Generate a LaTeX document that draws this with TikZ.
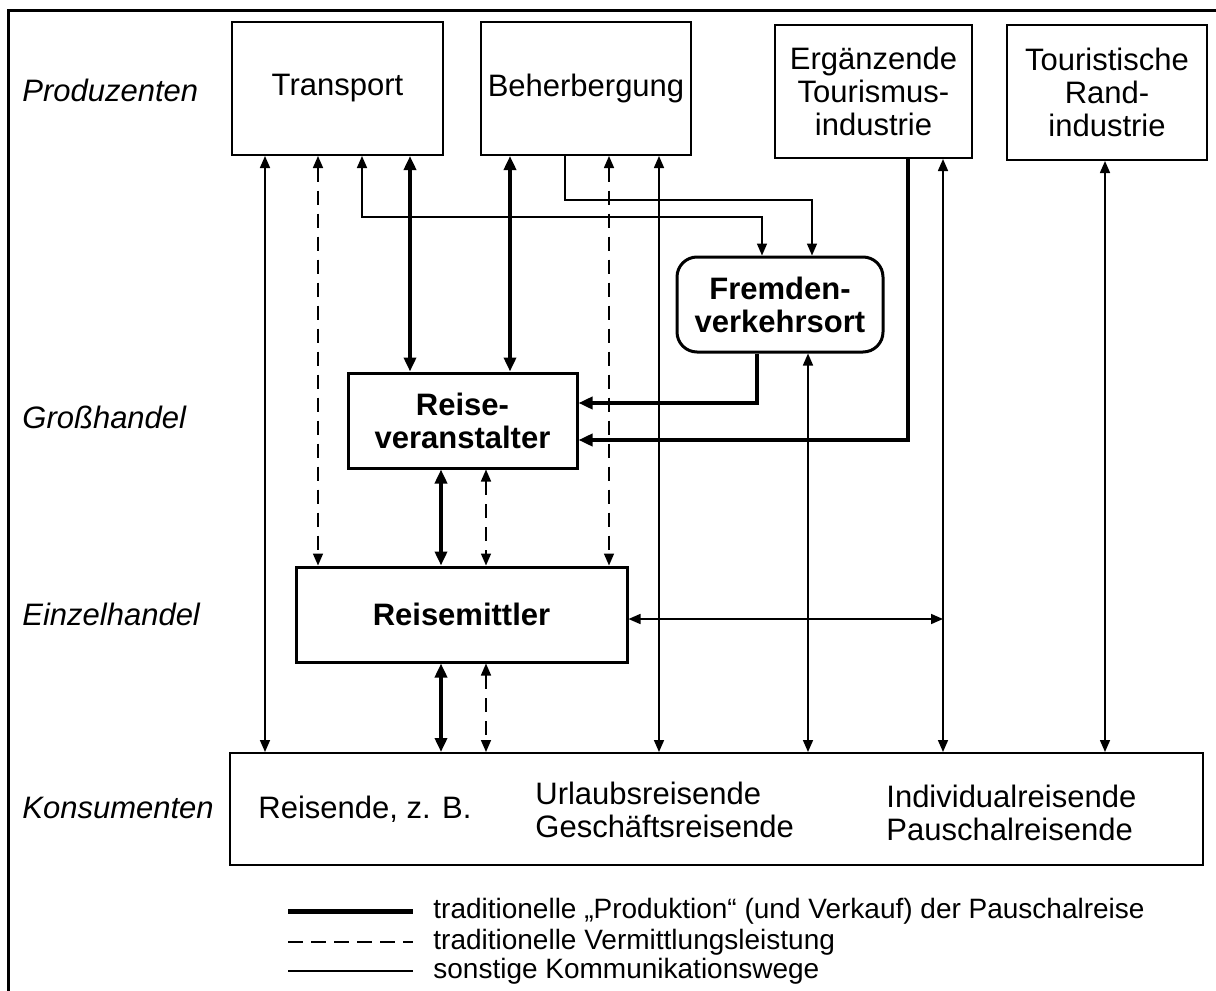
\documentclass[tikz,border=0pt]{standalone}
\usepackage{fontspec}
\setmainfont{Liberation Sans}
\usetikzlibrary{arrows.meta,calc}
\begin{document}
\begin{tikzpicture}[x=0.5pt,y=-0.5pt,
  every node/.style={font=\fontsize{15.5}{16.5}\selectfont, inner sep=0pt},
  box/.style={draw, line width=1pt, align=center},
  boldbox/.style={draw, line width=1.5pt, align=center, font=\fontsize{15.5}{16.5}\selectfont\bfseries},
  lvl/.style={anchor=base west, font=\fontsize{15.5}{16.5}\selectfont\itshape},
  weg/.style={line width=0.8pt, >={Triangle[length=6pt,width=5pt]}},
  verm/.style={line width=0.8pt, dash pattern=on 7pt off 4.5pt, >={Triangle[length=6pt,width=5pt]}},
  prod/.style={line width=2pt, >={Triangle[length=7pt,width=6pt]}},
  legtext/.style={anchor=west, font=\fontsize{14}{15}\selectfont}
]
\useasboundingbox (0,0) rectangle (1216,991);
% frame
\draw[line width=1.5pt] (8,991) -- (8,10) -- (1216,10);

% level labels
\node[lvl] (lp) at (22,101) {Produzenten};
\node[lvl] (lg) at (22,428) {Großhandel};
\node[lvl] (le) at (22,625) {Einzelhandel};
\node[lvl] (lk) at (22,818) {Konsumenten};

% boxes
\node[box, minimum width=105.5pt, minimum height=66.5pt] (tr) at (337.5,88.5) {Transport};
\node[box, minimum width=105pt, minimum height=66.5pt] (bh) at (586,88.5) {Beherbergung};
\node[box, minimum width=98.5pt, minimum height=66.5pt] (et) at (873.5,91.5) {Ergänzende\\Tourismus-\\industrie};
\node[box, minimum width=100pt, minimum height=67.5pt] (tri) at (1107,92.5) {Touristische\\Rand-\\industrie};
\node[boldbox, rounded corners=10pt, minimum width=103pt, minimum height=47.5pt] (fv) at (780,304.5) {Fremden-\\verkehrsort};
\node[boldbox, minimum width=114.5pt, minimum height=47.5pt] (rv) at (462.5,420.5) {Reise-\\veranstalter};
\node[boldbox, minimum width=165.5pt, minimum height=47.5pt] (rm) at (461.5,614.5) {Reisemittler};
\node[box, minimum width=486.5pt, minimum height=56pt] (ko) at (716.5,809) {};
\node[anchor=base west] (k1) at (258,818) {Reisende, z. B.};
\node[anchor=west, align=left] (k2) at (535,809.5) {Urlaubsreisende\\Geschäftsreisende};
\node[anchor=west, align=left] (k3) at (886,812.5) {Individualreisende\\Pauschalreisende};

% x positions
\foreach \xx in {265,318,362,410,441,486,510,565,609,659,808,943,1105}
  {\coordinate (x\xx) at (\xx,0);}
\coordinate (j1) at (762,217);
\coordinate (j2) at (812,200);
\coordinate (j3) at (908,440);
\coordinate (j4) at (757,403);
\coordinate (j5) at (943,619);

% connectors
\draw[weg,<->] (tr.south -| x265) -- (ko.north -| x265);
\draw[verm,<->] (tr.south -| x318) -- (rm.north -| x318);
\draw[weg,<->] (tr.south -| x362) |- (j1) -- (fv.north -| j1);
\draw[prod,<->] (tr.south -| x410) -- (rv.north -| x410);
\draw[prod,<->] (bh.south -| x510) -- (rv.north -| x510);
\draw[weg,->] (bh.south -| x565) |- (j2) -- (fv.north -| j2);
\draw[verm,<->] (bh.south -| x609) -- (rm.north -| x609);
\draw[weg,<->] (bh.south -| x659) -- (ko.north -| x659);
\draw[prod,->] (et.south -| j3) -- (j3) -- (rv.east |- j3);
\draw[weg,<->] (et.south -| x943) -- (ko.north -| x943);
\draw[weg,<->] (tri.south -| x1105) -- (ko.north -| x1105);
\draw[prod,->] (fv.south -| j4) -- (j4) -- (rv.east |- j4);
\draw[weg,<->] (fv.south -| x808) -- (ko.north -| x808);
\draw[prod,<->] (rv.south -| x441) -- (rm.north -| x441);
\draw[verm,<->] (rv.south -| x486) -- (rm.north -| x486);
\draw[prod,<->] (rm.south -| x441) -- (ko.north -| x441);
\draw[verm,<->] (rm.south -| x486) -- (ko.north -| x486);
\draw[weg,<->] (rm.east |- j5) -- (j5);

% legend
\coordinate (la1) at (288,911); \coordinate (lb1) at (413,911);
\coordinate (la2) at (288,942); \coordinate (lb2) at (413,942);
\coordinate (la3) at (288,971); \coordinate (lb3) at (413,971);
\draw[line width=2.5pt] (la1) -- (lb1);
\draw[line width=0.8pt, dash pattern=on 7.5pt off 4pt] (la2) -- (lb2);
\draw[line width=0.8pt] (la3) -- (lb3);
\node[legtext] (t1) at (433,911) {traditionelle „Produktion“ (und Verkauf) der Pauschalreise};
\node[legtext] (t2) at (433,942) {traditionelle Vermittlungsleistung};
\node[legtext] (t3) at (433,971) {sonstige Kommunikationswege};
\end{tikzpicture}
\end{document}
